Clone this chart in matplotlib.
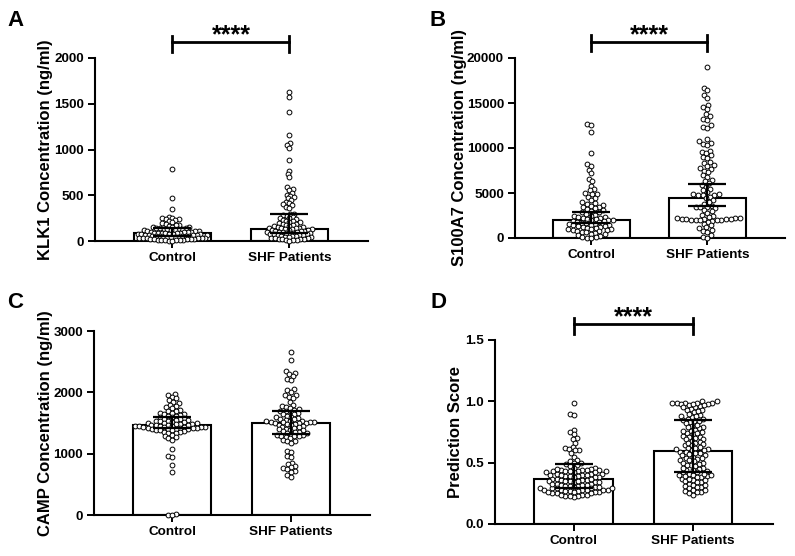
import matplotlib
matplotlib.use('Agg')
import matplotlib.pyplot as plt
import numpy as np

plt.rcParams['font.family'] = ['Liberation Sans', 'DejaVu Sans']
plt.rcParams['font.weight'] = 'bold'

groups = ['Control', 'SHF Patients']

# ---- data ----
klk1_control = [790, 470, 345, 262, 256, 249, 241, 236, 227, 214, 206, 193, 187, 178, 171,
                166, 158, 155, 151, 147, 142, 139, 134, 131, 127, 126, 120, 117, 115, 111,
                109, 104, 103, 99, 97, 95, 92, 91, 88, 86, 85, 82, 80, 79, 76, 74, 73, 70,
                68, 66, 64, 63, 60, 58, 57, 54, 52, 50, 49, 46, 44, 42, 40, 38, 36, 35, 32,
                30, 28, 26, 25, 22, 20, 18, 16, 14, 12, 10, 8, 6, 5, 3]
klk1_shf = [1630, 1570, 1405, 1160, 1070, 1050, 1020, 890, 770, 735, 700, 590, 570, 555,
            530, 505, 495, 480, 465, 450, 430, 415, 400, 390, 375, 365, 300, 290, 282, 270,
            262, 254, 246, 238, 232, 224, 218, 210, 203, 196, 190, 184, 178, 172, 166, 160,
            155, 150, 147, 143, 140, 137, 134, 131, 128, 124, 120, 117, 114, 111, 107, 103,
            100, 97, 94, 91, 88, 85, 82, 79, 76, 73, 70, 66, 62, 58, 55, 51, 48, 44, 40,
            37, 34, 30, 27, 24, 20, 17, 14, 11, 8, 5]
s100a7_control = [12700, 12500, 11800, 9500, 8200, 8000, 7600, 7200, 6600, 6300, 5800,
                  5400, 5300, 5000, 4900, 4850, 4600, 4400, 4200, 4000, 3900, 3800, 3700,
                  3600, 3500, 3400, 3350, 3200, 3100, 3000, 2900, 2850, 2700, 2600, 2500,
                  2450, 2350, 2300, 2250, 2200, 2150, 2100, 2050, 2000, 1950, 1900, 1850,
                  1800, 1750, 1700, 1650, 1600, 1550, 1500, 1450, 1400, 1350, 1300, 1250,
                  1200, 1150, 1100, 1050, 1000, 950, 900, 850, 800, 750, 700, 650, 600,
                  500, 400, 300, 200, 150, 80, 30, 0]
s100a7_shf = [19000, 16700, 16400, 15900, 15600, 14800, 14500, 14300, 13800, 13500, 13200,
              13100, 12500, 12300, 12200, 11000, 10800, 10600, 10500, 10300, 9700, 9600,
              9400, 9200, 9000, 8900, 8400, 8300, 8100, 8000, 7800, 7700, 7500, 7300, 7000,
              6800, 6500, 6300, 6100, 5900, 5700, 5500, 5300, 5100, 4900, 4850, 4800, 4800,
              4750, 4600, 4400, 4200, 4000, 3800, 3600, 3500, 3450, 3400, 3300, 3100, 3000,
              2800, 2600, 2400, 2300, 2250, 2200, 2200, 2150, 2150, 2100, 2100, 2100, 2050,
              2050, 2000, 2000, 1950, 1900, 1800, 1600, 1400, 1200, 1100, 900, 800, 700,
              300, 100, 0]
camp_control = [1980, 1960, 1930, 1900, 1880, 1850, 1820, 1800, 1780, 1760, 1740, 1720,
                1700, 1690, 1670, 1660, 1650, 1640, 1630, 1620, 1610, 1600, 1590, 1580,
                1570, 1560, 1550, 1545, 1540, 1530, 1525, 1520, 1510, 1505, 1500, 1495,
                1490, 1485, 1480, 1475, 1470, 1465, 1460, 1455, 1450, 1448, 1445, 1440,
                1438, 1435, 1430, 1428, 1425, 1420, 1418, 1415, 1410, 1405, 1400, 1395,
                1390, 1385, 1380, 1370, 1360, 1350, 1340, 1330, 1310, 1290, 1270, 1250,
                1230, 1070, 960, 950, 820, 700, 15, 5, 0]
camp_shf = [2660, 2530, 2350, 2320, 2300, 2260, 2220, 2200, 2050, 2030, 2000, 1960, 1950,
            1930, 1900, 1850, 1800, 1780, 1760, 1750, 1730, 1720, 1700, 1690, 1680, 1660,
            1650, 1640, 1620, 1600, 1590, 1580, 1570, 1560, 1550, 1540, 1530, 1525, 1520,
            1520, 1515, 1510, 1505, 1500, 1495, 1490, 1480, 1470, 1460, 1450, 1440, 1430,
            1420, 1410, 1400, 1390, 1380, 1370, 1360, 1350, 1340, 1330, 1320, 1310, 1300,
            1295, 1290, 1280, 1270, 1250, 1230, 1210, 1200, 1180, 1050, 1020, 970, 940,
            850, 830, 800, 780, 760, 745, 720, 700, 660, 620]
score_control = [0.99, 0.90, 0.89, 0.77, 0.75, 0.73, 0.70, 0.69, 0.66, 0.63, 0.62, 0.61,
                 0.60, 0.60, 0.58, 0.55, 0.52, 0.51, 0.50, 0.50, 0.49, 0.48, 0.47, 0.46,
                 0.45, 0.44, 0.44, 0.44, 0.43, 0.43, 0.43, 0.42, 0.42, 0.41, 0.41, 0.40,
                 0.40, 0.39, 0.39, 0.38, 0.38, 0.37, 0.37, 0.36, 0.36, 0.35, 0.35, 0.34,
                 0.34, 0.33, 0.33, 0.32, 0.32, 0.31, 0.31, 0.30, 0.30, 0.29, 0.29, 0.29,
                 0.28, 0.28, 0.28, 0.27, 0.27, 0.26, 0.26, 0.26, 0.25, 0.25, 0.24, 0.24,
                 0.23, 0.23, 0.22, 0.44, 0.43, 0.42, 0.41, 0.40, 0.39, 0.38, 0.37, 0.36,
                 0.35, 0.34, 0.33, 0.32, 0.31, 0.30, 0.29, 0.28, 0.28, 0.27, 0.26, 0.25,
                 0.24, 0.23, 0.43, 0.29, 0.28, 0.45, 0.46, 0.40, 0.35]
score_shf = [1.00, 1.00, 0.99, 0.99, 0.99, 0.99, 0.98, 0.98, 0.97, 0.96, 0.95, 0.94, 0.93,
             0.91, 0.89, 0.88, 0.87, 0.86, 0.85, 0.84, 0.83, 0.82, 0.80, 0.79, 0.78, 0.77,
             0.76, 0.75, 0.74, 0.73, 0.72, 0.71, 0.70, 0.69, 0.68, 0.67, 0.66, 0.65, 0.64,
             0.63, 0.62, 0.61, 0.60, 0.60, 0.59, 0.59, 0.58, 0.57, 0.56, 0.55, 0.54, 0.53,
             0.52, 0.51, 0.50, 0.49, 0.48, 0.47, 0.46, 0.45, 0.44, 0.43, 0.42, 0.41, 0.40,
             0.40, 0.39, 0.38, 0.37, 0.36, 0.35, 0.34, 0.33, 0.32, 0.31, 0.30, 0.29, 0.28,
             0.27, 0.26, 0.25, 0.24, 0.97, 0.95, 0.93, 0.92, 0.90, 0.88, 0.86, 0.84, 0.81,
             0.79, 0.76, 0.74, 0.71, 0.69, 0.66, 0.64, 0.62, 0.61, 0.58, 0.56, 0.54, 0.52,
             0.50, 0.48, 0.46, 0.44, 0.42, 0.40, 0.38, 0.36, 0.34, 0.32, 0.30, 0.28, 0.26,
             0.99, 0.98, 0.41, 0.39, 0.37]

# bar height (median) and error bar ends, per group
klk1_med, klk1_lo, klk1_hi = [85, 135], [60, 85], [140, 290]
s100a7_med, s100a7_lo, s100a7_hi = [2000, 4480], [1630, 3550], [2850, 6050]
camp_med, camp_lo, camp_hi = [1460, 1505], [1420, 1320], [1590, 1700]
score_med, score_lo, score_hi = [0.367, 0.598], [0.29, 0.426], [0.487, 0.848]

panels = [
    # letter, data, med, lo, hi, ylabel, ymax, yticks, ticklabels, stars,
    # axes box in px, ylabel x, swarm spacing px
    ('A', [klk1_control, klk1_shf], klk1_med, klk1_lo, klk1_hi,
     'KLK1 Concentration (ng/ml)', 2000, [0, 500, 1000, 1500, 2000], None, True,
     [95, 58, 368, 241], -0.154, 3.7),
    ('B', [s100a7_control, s100a7_shf], s100a7_med, s100a7_lo, s100a7_hi,
     'S100A7 Concentration (ng/ml)', 20000, [0, 5000, 10000, 15000, 20000], None, True,
     [515, 58, 785, 238], -0.178, 4.6),
    ('C', [camp_control, camp_shf], camp_med, camp_lo, camp_hi,
     'CAMP Concentration (ng/ml)', 3000, [0, 1000, 2000, 3000], None, False,
     [94, 331, 370, 515], -0.149, 4.3),
    ('D', [score_control, score_shf], score_med, score_lo, score_hi,
     'Prediction Score', 1.5, [0, 0.5, 1.0, 1.5], ['0.0', '0.5', '1.0', '1.5'], True,
     [495, 340, 773, 524], -0.115, 4.4),
]

W, H = 795, 556
fig = plt.figure(figsize=(W / 100, H / 100), dpi=100)


def swarm_offsets(ax, xc, vals, d):
    # simple beeswarm in pixel space, returns x positions in data units
    t = ax.transData
    ys = t.transform(np.column_stack([np.full(len(vals), xc), vals]))[:, 1]
    unit = t.transform((1, 0))[0] - t.transform((0, 0))[0]
    xs = np.zeros(len(vals))
    placed = []
    for i in np.argsort(ys):
        y = ys[i]
        near = [(px, np.sqrt(d * d - (y - py) ** 2)) for px, py in placed if abs(y - py) < d]
        cands = [0.0] + [px + s * w for px, w in near for s in (-1, 1)]
        cands.sort(key=abs)
        for c in cands:
            if all(abs(c - px) >= w - 1e-6 for px, w in near):
                xs[i] = c
                break
        placed.append((xs[i], y))
    return xc + xs / unit


for (letter, data, med, lo, hi, ylab, ymax, yt, ytl, stars, rect, labx, dsw) in panels:
    x0, y0, x1, y1 = rect
    ax = fig.add_axes([x0 / W, 1 - y1 / H, (x1 - x0) / W, (y1 - y0) / H])
    ax.set_xlim(-0.66, 1.67)
    ax.set_ylim(0, ymax)
    xpos = np.arange(len(groups))
    px = ymax / (y1 - y0)  # data units per pixel

    ax.bar(xpos, med, width=0.66, color='white', edgecolor='black', linewidth=1.5, zorder=1)
    for k, vals in enumerate(data):
        xs = swarm_offsets(ax, xpos[k], np.asarray(vals, float), dsw)
        ax.scatter(xs, vals, s=12, facecolor='white', edgecolor='black',
                   linewidth=0.7, zorder=3, clip_on=False)
    med = np.array(med)
    ax.errorbar(xpos, med, yerr=[med - np.array(lo), np.array(hi) - med], fmt='none',
                ecolor='black', elinewidth=1.6, capsize=14, capthick=1.6, zorder=4)

    ax.set_xticks(xpos)
    ax.set_xticklabels(groups, fontsize=9.7, fontweight='bold')
    ax.set_yticks(yt)
    if ytl:
        ax.set_yticklabels(ytl)
    ax.tick_params(axis='y', labelsize=9.7, width=1.4, length=5, direction='out', pad=3)
    ax.tick_params(axis='x', width=1.4, length=5, direction='out', pad=3)
    for lbl in ax.get_yticklabels():
        lbl.set_fontweight('bold')
    ax.spines['top'].set_visible(False)
    ax.spines['right'].set_visible(False)
    ax.spines['left'].set_linewidth(1.5)
    ax.spines['bottom'].set_linewidth(1.5)

    ax.set_ylabel(ylab, fontsize=12, fontweight='bold')
    ax.yaxis.set_label_coords(labx, 0.5)

    if stars:
        yb = ymax + 16.5 * px
        ax.plot([0, 1], [yb, yb], color='black', lw=2, clip_on=False)
        for xe in (0, 1):
            ax.plot([xe, xe], [yb + 6 * px, yb - 10 * px], color='black', lw=2,
                    clip_on=False)
        ax.text(0.5, yb - 0.5 * px, '****', ha='center', va='baseline',
                fontsize=18, fontweight='bold')

    lx = 15 if x0 < 300 else 438
    ly = 20 if y0 < 200 else 303
    fig.text(lx / W, 1 - ly / H, letter, fontsize=16, fontweight='bold',
             ha='center', va='center')

fig.savefig('out.png', dpi=100)
